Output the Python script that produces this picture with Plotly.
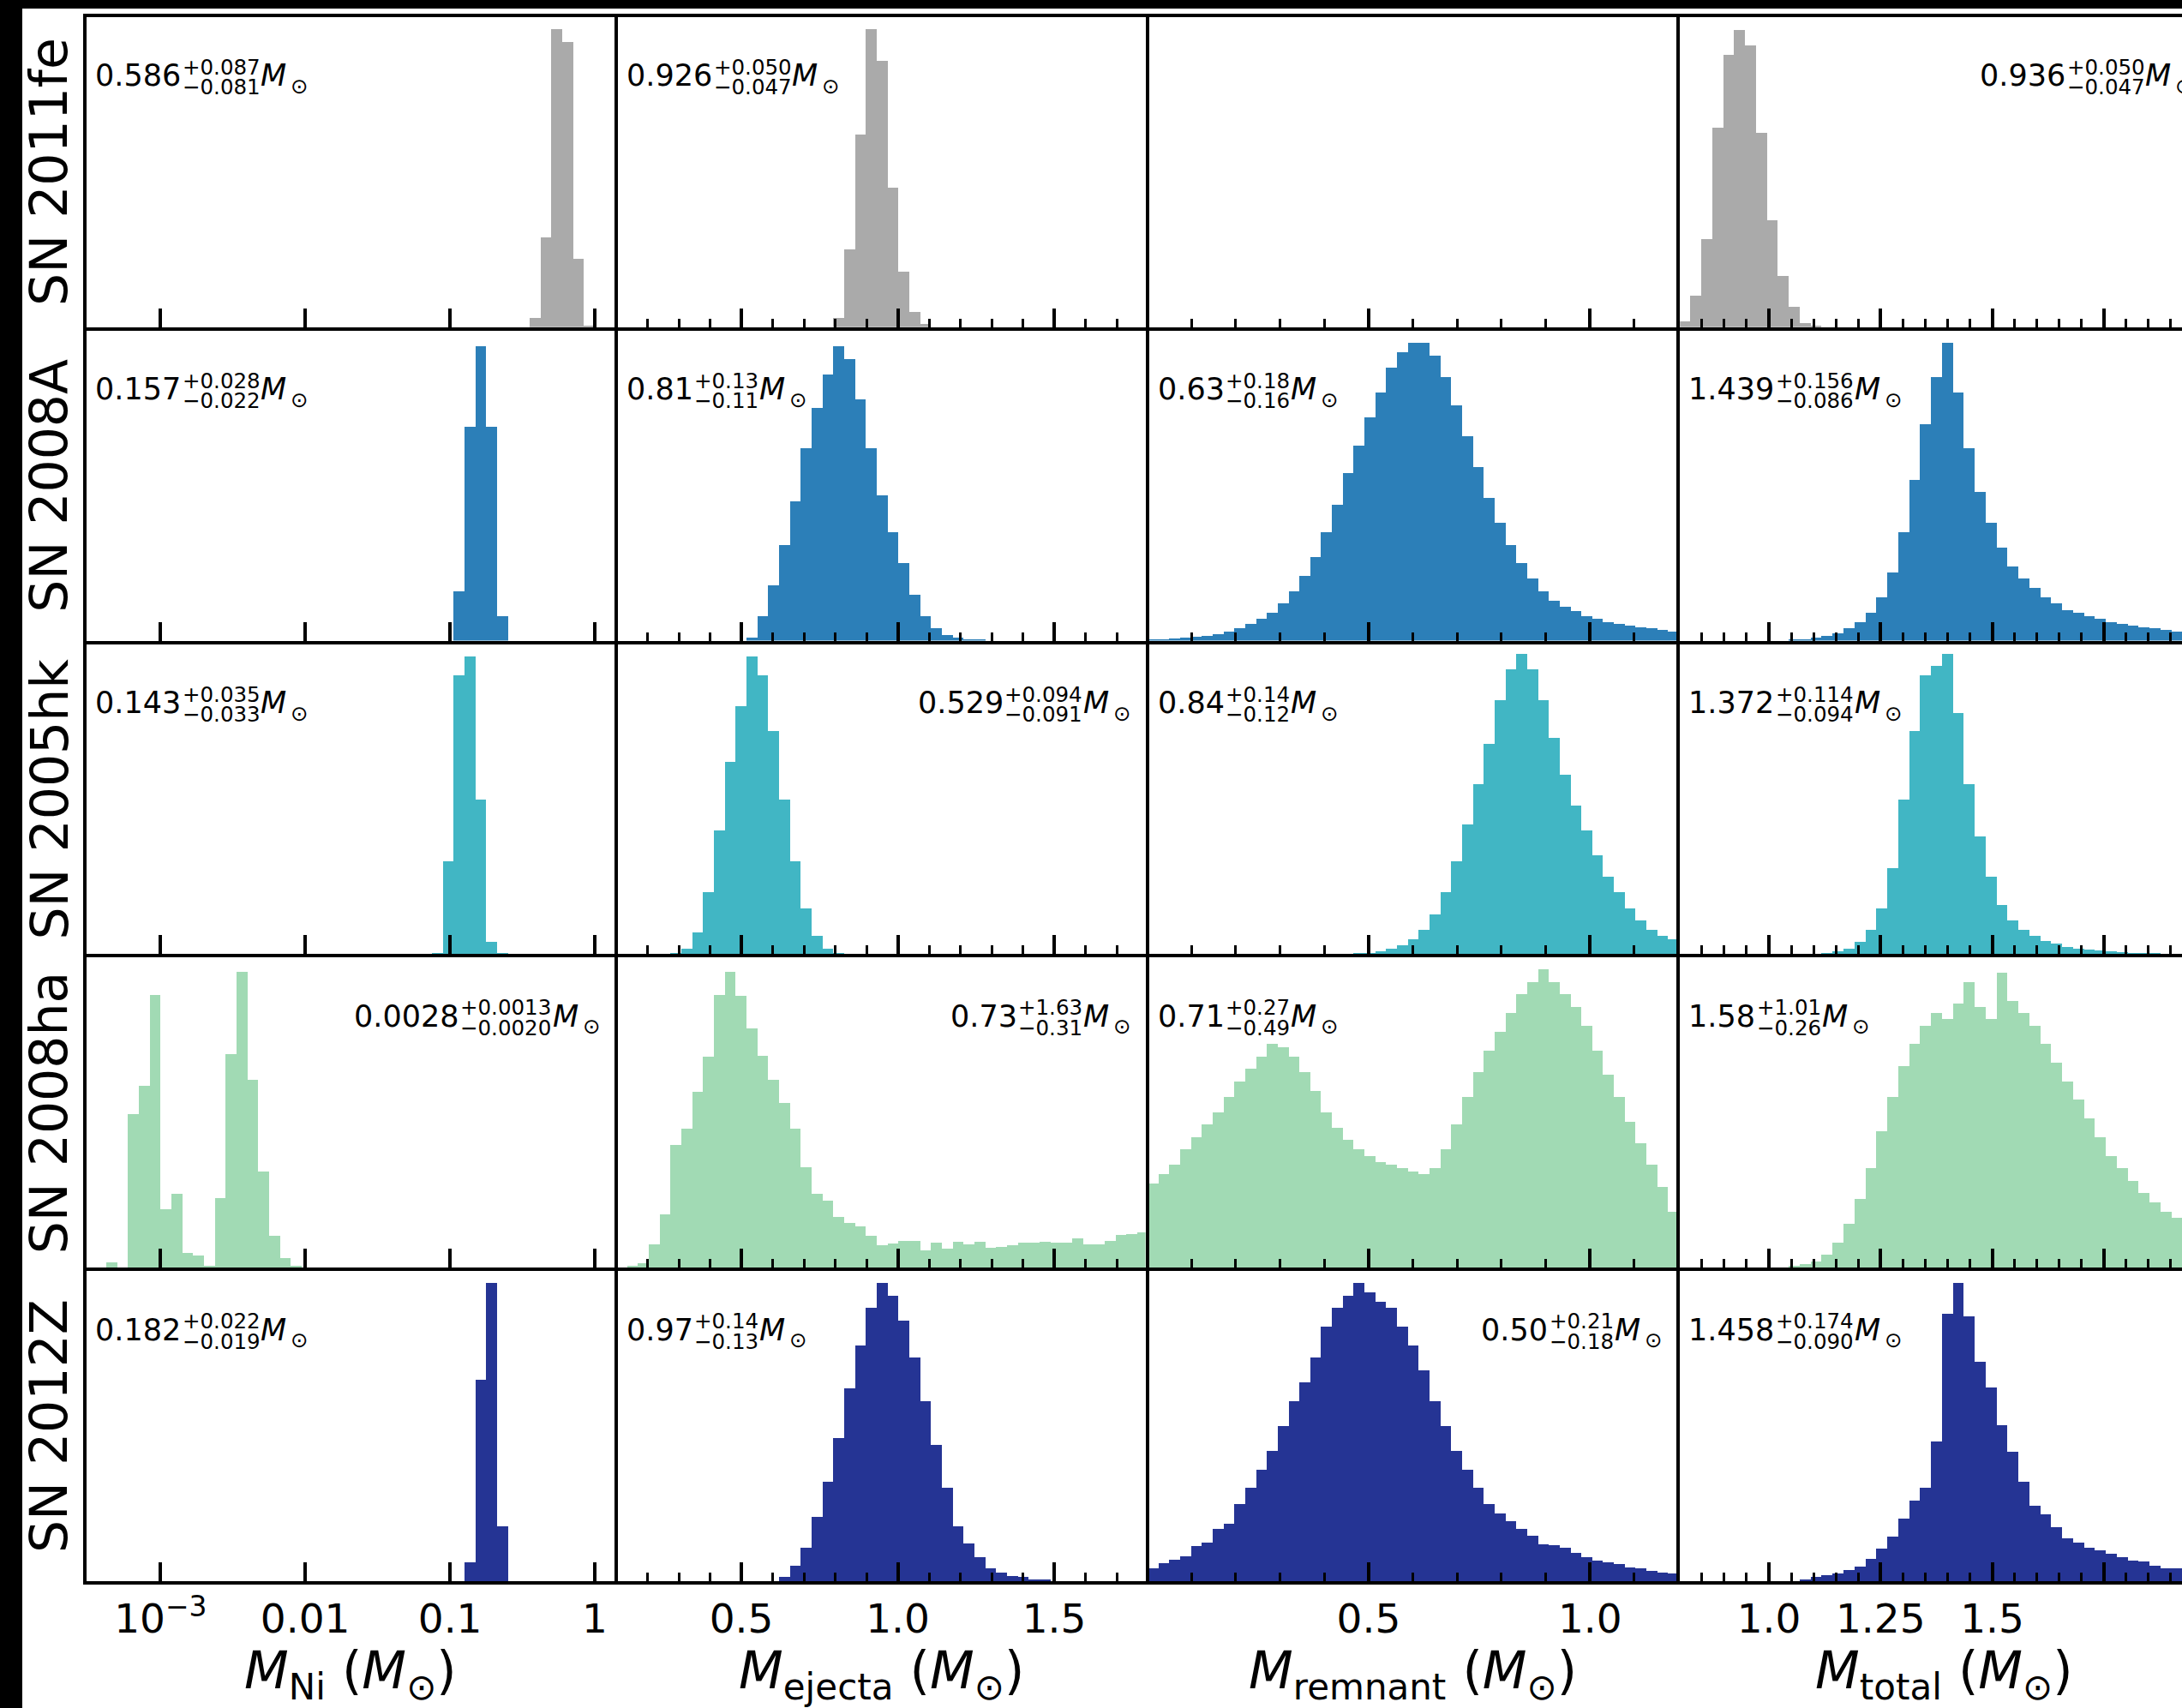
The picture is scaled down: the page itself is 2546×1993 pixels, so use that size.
import numpy as np
import plotly.graph_objects as go

W, H = 2546, 1993

# ---------------- data (bar heights, % of panel height; 49 bins per panel) -------------
supernovae = ["SN 2011fe", "SN 2008A", "SN 2005hk", "SN 2008ha", "SN 2012Z"]
colors = ["#aaaaaa", "#2c7fb8", "#41b6c4", "#a1dab4", "#253494"]

# bin ranges per column (M_Ni column in log10 units)
bin_lo = [-3.525, 0.1, 0.0, 0.8]
bin_hi = [0.150, 1.8, 1.2, 2.0]
NBINS = 49

ni_2011fe = [0]*41 + [3, 29, 96, 92, 22, 0.6] + [0]*2
ni_2008A = [0]*34 + [16, 69, 95, 69, 8] + [0]*10
ni_2005hk = [0]*32 + [0.5, 30, 90, 96, 50, 4, 0.5] + [0]*10
ni_2008ha = [0]*2 + [1.5, 0, 49.3, 58.5, 87.8, 18.8, 23.8, 4.7, 3.8, 0.4,
                     22.3, 68.7, 95.3, 60.4, 31.0, 10.2, 3.0, 0.3] + [0]*29
ni_2012Z = [0]*35 + [6, 65, 96, 17.5] + [0]*10

ej_2011fe = [0]*20 + [3, 25, 62, 96, 86, 45, 18, 5, 1] + [0]*20
ej_2008A = [0]*12 + [1, 8, 18, 31, 45, 62, 75, 86, 95, 91, 78, 62, 47, 35, 25, 15,
                     8, 4, 2, 1, 0.5, 0.3] + [0]*15
ej_2005hk = [0]*5 + [0.5, 2, 7, 20, 40, 62, 80, 96, 90, 72, 50, 30, 15, 6, 2, 0.5] + [0]*28
ej_2008ha = [0, 0.5, 1.2, 7.3, 17.1, 39.6, 44.6, 56.5, 67.9, 87.8, 95.3, 87.5, 77.0, 68.1,
             60.4, 52.9, 44.6, 32.4, 23.8, 21.6, 16.3, 14.4, 13.3, 10.2, 7.2, 7.8, 8.6,
             8.6, 5.5, 8.0, 6.1, 8.3, 7.5, 8.3, 6.4, 6.6, 7.2, 8.0, 8.0, 8.3, 8.0, 8.0,
             9.4, 7.5, 7.5, 8.6, 10.5, 10.8, 11.4]
ej_2012Z = [0]*15 + [1.4, 4.9, 10.8, 20.8, 32, 46, 62, 76, 88, 96, 92, 84, 72, 58, 44, 30,
                     17.5, 12.2, 7.8, 4.2, 2.8, 1.6, 1.2, 0.5, 0.3] + [0]*9

rem_2011fe = [0]*49
rem_2008A = [0.3, 0.5, 0.7, 1, 1.3, 1.7, 2.2, 3, 4, 5.5,
             7, 9, 12, 16, 21, 27, 35, 44, 54, 63,
             72, 80, 88, 93, 96, 96, 92, 85, 76, 66,
             56, 46, 38, 31, 25, 20, 16, 13, 11, 9.5,
             8, 7, 6, 5.5, 5, 4.5, 4, 3.5, 3]
rem_2005hk = [0]*19 + [0.3, 0.5, 1, 1.8, 3, 5, 8, 13, 20, 30, 42, 55, 68, 82, 92, 97, 92, 82,
                       70, 58, 48, 40, 32, 25, 20, 15, 11, 8, 6, 5]
rem_2008ha = [27, 30, 33, 38, 42, 46, 50, 55, 60, 64,
              68, 72, 71, 68, 63, 57, 50, 45, 41, 38,
              36, 34, 33, 32, 31, 30, 32, 38, 46, 55,
              63, 70, 76, 82, 88, 92, 96, 92, 88, 84,
              78, 70, 62, 55, 47, 40, 33, 26, 18]
rem_2012Z = [4, 5.8, 6.9, 8, 11.4, 12.5, 16.9, 18.6, 24.7,
             30, 36, 42, 50, 58, 64, 72, 82, 88, 92, 96, 93, 90, 88, 82, 76, 68, 58, 50, 42, 36, 30,
             24.7, 21.9, 19.4, 16.9, 14.7, 11.9, 11.6, 10.8, 9.1, 7.8, 6.6, 6.1, 5.5, 4.4, 4.2,
             3.3, 2.8, 2.5]

tot_2011fe = [1.9, 10.2, 28.3, 64.3, 87.8, 95.8, 91.0, 62.6, 34.6, 16.6, 6.5, 1.4, 0.3] + [0]*36
tot_2008A = [0]*10 + [0.3, 0.6, 1, 1.5, 2.5, 4, 6, 9, 14, 22,
                      35, 52, 70, 85, 96, 80, 62, 48, 38, 30,
                      24, 20, 17, 14, 12, 10, 9, 8, 7, 6,
                      5.5, 5, 4.5, 4, 3.5, 3, 2.5, 2, 2]
tot_2005hk = [0]*13 + [0.3, 1, 2, 4, 8, 15, 28, 50, 72, 90,
                       93, 97, 78, 55, 38, 25, 16, 11, 8, 6,
                       4.5, 3.5, 2.5, 2, 1.5, 1.2, 1, 0.8, 0.6, 0.4,
                       0.3, 0.2, 0.1] + [0]*3
tot_2008ha = [0]*10 + [0.5, 1, 2, 4, 8, 14, 22, 32, 44, 55,
                       65, 72, 78, 82, 80, 85, 92, 84, 80, 95,
                       86, 82, 78, 72, 66, 60, 54, 48, 42, 36,
                       32, 28, 24, 21, 18, 16, 14, 13, 12]
tot_2012Z = [0]*11 + [0.3, 1.2, 1.75, 2.3, 3.6, 4.7, 7.2, 10.5, 14.4, 20.2,
                      26.0, 30.1, 45.1, 86.3, 96, 85.4, 70.8, 62.5, 50.3, 41.8,
                      32.1, 24.3, 21.6, 17.4, 13.8, 12.4, 10.8, 10.0, 8.8, 7.7,
                      6.6, 6.4, 5.0, 4.1, 4.1] + [0]*3

columns = [
    [ni_2011fe, ni_2008A, ni_2005hk, ni_2008ha, ni_2012Z],
    [ej_2011fe, ej_2008A, ej_2005hk, ej_2008ha, ej_2012Z],
    [rem_2011fe, rem_2008A, rem_2005hk, rem_2008ha, rem_2012Z],
    [tot_2011fe, tot_2008A, tot_2005hk, tot_2008ha, tot_2012Z],
]

# median and +/- errors (text)
med = [["0.586", "0.926", None, "0.936"],
       ["0.157", "0.81", "0.63", "1.439"],
       ["0.143", "0.529", "0.84", "1.372"],
       ["0.0028", "0.73", "0.71", "1.58"],
       ["0.182", "0.97", "0.50", "1.458"]]
err_up = [["0.087", "0.050", None, "0.050"],
          ["0.028", "0.13", "0.18", "0.156"],
          ["0.035", "0.094", "0.14", "0.114"],
          ["0.0013", "1.63", "0.27", "1.01"],
          ["0.022", "0.14", "0.21", "0.174"]]
err_lo = [["0.081", "0.047", None, "0.047"],
          ["0.022", "0.11", "0.16", "0.086"],
          ["0.033", "0.091", "0.12", "0.094"],
          ["0.0020", "0.31", "0.49", "0.26"],
          ["0.019", "0.13", "0.18", "0.090"]]
align = [["l", "l", None, "r"],
         ["l", "l", "l", "l"],
         ["l", "r", "l", "l"],
         ["r", "r", "l", "l"],
         ["l", "l", "r", "l"]]

axis_titles = ["<i>M</i><sub>Ni</sub> (<i>M</i><sub>⊙</sub>)",
               "<i>M</i><sub>ejecta</sub> (<i>M</i><sub>⊙</sub>)",
               "<i>M</i><sub>remnant</sub> (<i>M</i><sub>⊙</sub>)",
               "<i>M</i><sub>total</sub> (<i>M</i><sub>⊙</sub>)"]
major_ticks = [[-3, -2, -1, 0], [0.5, 1.0, 1.5], [0.5, 1.0], [1.0, 1.25, 1.5, 1.75]]
major_text = [["10<sup>−3</sup>", "0.01", "0.1", "1"], ["0.5", "1.0", "1.5"],
              ["0.5", "1.0"], ["1.0", "1.25", "1.5", " "]]
minor_step = [None, 0.1, 0.1, 0.05]

# ---------------- geometry (pixels) ----------------
LX = [99, 719, 1338.6, 1958.2, 2577.8]      # spine centres (columns)
LY = [18 + 365.8 * i for i in range(6)]      # spine centres (rows)
LW = 4
# x calibration: (value, pixel, pixels per unit)
calib = [(-3.0, 187.3, 168.9), (0.5, 865.0, 365.0), (0.0, 1338.6, 516.7), (1.0, 2064.0, 521.0)]

FONT = "DejaVu Sans"


def px(x):
    return x / W


def py(y):
    return 1 - y / H


fig = go.Figure()
layout = {}
annotations = []

adv = {'.': 0.318, '+': 0.838, '−': 0.838}


def tw(s, fs):
    return sum(adv.get(ch, 0.636) for ch in s) * fs


for r in range(5):
    for c in range(4):
        idx = r * 4 + c + 1
        sfx = "" if idx == 1 else str(idx)
        left = LX[c] + LW / 2
        right = (LX[c + 1] - LW / 2) if c < 3 else W
        top = LY[r] + LW / 2
        bottom = LY[r + 1] - LW / 2
        v0, p0, ppu = calib[c]
        xr = [v0 + (left - p0) / ppu, v0 + (right - p0) / ppu]

        vals = columns[c][r]
        bw = (bin_hi[c] - bin_lo[c]) / NBINS
        edges = bin_lo[c] + bw * np.arange(NBINS)
        fig.add_trace(go.Bar(x=edges, y=vals, width=bw, offset=0,
                             marker=dict(color=colors[r], line=dict(width=0)),
                             xaxis="x" + sfx, yaxis="y" + sfx,
                             showlegend=False, hoverinfo="skip"))

        minor = dict(ticks="")
        if minor_step[c]:
            st = minor_step[c]
            mv = [round(v, 3) for v in np.arange(np.ceil(xr[0] / st) * st, xr[1], st)]
            mv = [v for v in mv if all(abs(v - m) > 1e-6 for m in major_ticks[c])
                  and v > xr[0] + 0.01 and v < xr[1] - 0.01]
            minor = dict(ticks="inside", ticklen=10, tickwidth=3, tickcolor="black",
                         tickmode="array", tickvals=mv, showgrid=False)

        layout["xaxis" + sfx] = dict(
            domain=[px(left), px(right)], range=xr, anchor="y" + sfx,
            showline=True, linecolor="black", linewidth=LW, mirror=True,
            ticks="inside", ticklen=22, tickwidth=4, tickcolor="black",
            tickmode="array", tickvals=major_ticks[c], ticktext=major_text[c],
            showticklabels=(r == 4), tickfont=dict(family=FONT, size=47, color="black"),
            showgrid=False, zeroline=False, minor=minor, fixedrange=True)
        layout["yaxis" + sfx] = dict(
            domain=[py(bottom), py(top)], range=[0, 100], anchor="x" + sfx,
            showline=True, linecolor="black", linewidth=LW, mirror=(c < 3),
            ticks="", showticklabels=False, showgrid=False, zeroline=False,
            fixedrange=True)

        # value label:  median^{+up}_{-lo} M_sun
        if med[r][c] is not None:
            fs, fss = 35, 24.5
            main, up, lo = med[r][c], "+" + err_up[r][c], "−" + err_lo[r][c]
            w_main = tw(main, fs)
            w_scr = max(tw(up, fss), tw(lo, fss))
            o_scr = w_main + 1.5
            o_M = o_scr + w_scr + 1
            o_od = o_M + 35
            end = o_od + 20.5
            if align[r][c] == "l":
                x0 = LX[c] + 12
            else:
                x0 = LX[c + 1] - 19 - end
            t = LY[r]
            pieces = [(main, x0, t + 50.5, fs),
                      (up, x0 + o_scr, t + 46.0, fss),
                      (lo, x0 + o_scr, t + 69.3, fss),
                      ("<i>M</i>", x0 + o_M, t + 50.5, fs),
                      ("⊙", x0 + o_od, t + 67.9, fss)]
            for txt, xx, yy, f in pieces:
                annotations.append(dict(text=txt, x=px(xx), y=py(yy), xref="paper", yref="paper",
                                        xanchor="left", yanchor="top", showarrow=False,
                                        borderpad=0, borderwidth=0,
                                        font=dict(family=FONT, size=f, color="black")))

# row labels
for r in range(5):
    annotations.append(dict(text=supernovae[r], x=px(57), y=py((LY[r] + LY[r + 1]) / 2),
                            xref="paper", yref="paper", xanchor="center", yanchor="middle",
                            textangle=-90, showarrow=False, borderpad=0, borderwidth=0,
                            font=dict(family=FONT, size=60, color="black")))
# axis titles
for c in range(4):
    annotations.append(dict(text=axis_titles[c], x=px((LX[c] + LX[c + 1]) / 2), y=py(1914),
                            xref="paper", yref="paper", xanchor="center", yanchor="top",
                            showarrow=False, borderpad=0, borderwidth=0,
                            font=dict(family=FONT, size=60, color="black")))

shapes = [
    dict(type="rect", xref="paper", yref="paper", x0=0, x1=px(26), y0=0, y1=1,
         fillcolor="black", line=dict(width=0), layer="above"),
    dict(type="rect", xref="paper", yref="paper", x0=0, x1=1, y0=py(10), y1=1,
         fillcolor="black", line=dict(width=0), layer="above"),
]

fig.update_layout(width=W, height=H, margin=dict(l=0, r=0, t=0, b=0, pad=0),
                  paper_bgcolor="white", plot_bgcolor="white", bargap=0,
                  annotations=annotations, shapes=shapes, showlegend=False, **layout)

fig.write_html("out.html", config={"displayModeBar": False},
               post_script="document.body.style.margin='0px';")
